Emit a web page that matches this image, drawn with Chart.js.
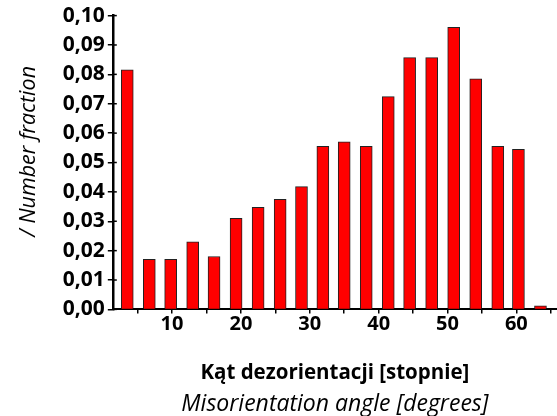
<!DOCTYPE html>
<html><head><meta charset="utf-8">
<script src="https://cdn.jsdelivr.net/npm/chart.js@4"></script>
<style>html,body{margin:0;padding:0;background:#fff}#wrap{width:557px;height:416px;position:relative}</style>
</head><body><div id="wrap"><canvas id="c"></canvas></div>
<script>
// Bin centres (degrees) and number fraction per bin
const binCenters = [3.5, 6.7, 9.8, 13.0, 16.1, 19.3, 22.5, 25.7, 28.8, 31.9, 35.0, 38.2, 41.4, 44.5, 47.7, 50.9, 54.1, 57.3, 60.3, 63.5];
const numberFraction = [0.0815, 0.017, 0.017, 0.023, 0.018, 0.031, 0.0347, 0.0375, 0.0418, 0.0555, 0.057, 0.0555, 0.0724, 0.0857, 0.0857, 0.096, 0.0785, 0.0555, 0.0545, 0.0012];

const yTickValues = [0, 0.01, 0.02, 0.03, 0.04, 0.05, 0.06, 0.07, 0.08, 0.09, 0.10];
const yTickLabels = ['0,00', '0,01', '0,02', '0,03', '0,04', '0,05', '0,06', '0,07', '0,08', '0,09', '0,10'];
const xTickValues = [5, 10, 15, 20, 25, 30, 35, 40, 45, 50, 55, 60, 65];
const xTickLabels = ['', '10', '', '20', '', '30', '', '40', '', '50', '', '60', ''];

const xTitle = 'Kąt dezorientacji [stopnie]';
const xSubTitle = 'Misorientation angle [degrees]';
const yTitle = '/ Number fraction';

const FONT = 'Open Sans';

const innerTicks = {
  id: 'innerTicks',
  afterDatasetsDraw(chart) {
    const y = chart.scales.y, ctx = chart.ctx;
    ctx.save();
    ctx.strokeStyle = '#000';
    ctx.lineWidth = 1.5;
    yTickValues.forEach(v => {
      const py = y.getPixelForValue(v);
      ctx.beginPath();
      ctx.moveTo(chart.chartArea.left, py);
      ctx.lineTo(chart.chartArea.left + 4, py);
      ctx.stroke();
    });
    ctx.restore();
  }
};

new Chart(document.getElementById('c'), {
  type: 'bar',
  data: {
    datasets: [{
      data: binCenters.map((x, i) => ({ x: x, y: numberFraction[i] })),
      backgroundColor: '#FF0000',
      borderColor: '#222222',
      borderWidth: 1,
      borderSkipped: 'start',
      barThickness: 12
    }]
  },
  options: {
    responsive: true,
    maintainAspectRatio: false,
    animation: false,
    layout: { padding: { top: 7.5, right: 0, bottom: 0, left: 0 } },
    plugins: {
      legend: { display: false },
      tooltip: { enabled: false },
      title: {
        display: true,
        position: 'bottom',
        fullSize: false,
        text: xSubTitle,
        color: '#000',
        font: { family: FONT, size: 23, style: 'italic', weight: 'normal', lineHeight: 1.0 },
        padding: { top: 4, bottom: 0 }
      }
    },
    scales: {
      x: {
        type: 'linear',
        offset: false,
        min: 1.4,
        max: 65.9,
        afterBuildTicks: axis => { axis.ticks = xTickValues.map(v => ({ value: v })); },
        ticks: {
          autoSkip: false,
          maxRotation: 0,
          color: '#000',
          padding: -1,
          font: { family: FONT, size: 20, weight: 'bold' },
          callback: (v, i) => xTickLabels[i]
        },
        grid: { display: true, offset: false, drawOnChartArea: false, color: '#000', lineWidth: 1.5, tickLength: 4 },
        border: { display: true, color: '#000', width: 2 },
        title: {
          display: true,
          text: xTitle,
          color: '#000',
          font: { family: FONT, size: 20.5, weight: 'bold' },
          padding: { top: 25, bottom: 4 }
        }
      },
      y: {
        min: 0,
        max: 0.1,
        afterBuildTicks: axis => { axis.ticks = yTickValues.map(v => ({ value: v })); },
        ticks: {
          color: '#000',
          padding: 3,
          font: { family: FONT, size: 21, weight: 'bold' },
          callback: (v, i) => yTickLabels[i]
        },
        grid: { display: true, drawOnChartArea: false, color: '#000', lineWidth: 1.5, tickLength: 5 },
        border: { display: true, color: '#000', width: 2.5 },
        title: {
          display: true,
          text: '    ' + yTitle,
          color: '#000',
          font: { family: FONT, size: 21.5, style: 'italic', weight: 'normal' },
          padding: { top: 16, bottom: 18 }
        }
      }
    }
  },
  plugins: [innerTicks]
});
</script>
</body></html>
